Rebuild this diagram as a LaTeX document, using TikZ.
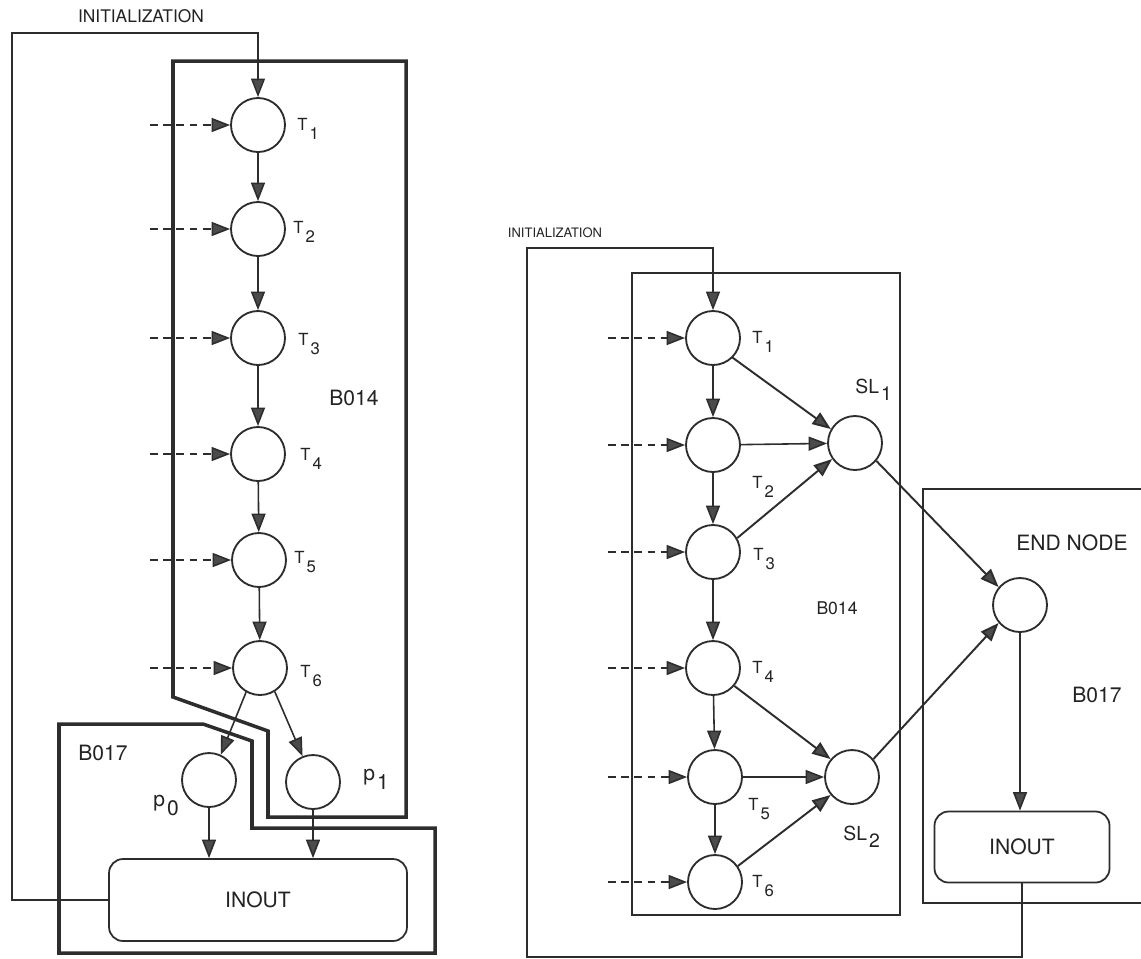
\documentclass[tikz,border=0pt]{standalone}
\usepackage{fontspec}
\setmainfont{TeX Gyre Heros}
\usetikzlibrary{arrows.meta}
\definecolor{ln}{RGB}{45,45,45}
\definecolor{tipc}{RGB}{75,75,75}
\definecolor{tx}{RGB}{35,35,35}
\newcommand\tsub[2]{#1\kern1.2pt\raisebox{-5.5pt}{#2}}
\newcommand\ssub[2]{#1\kern1.2pt\raisebox{-4pt}{#2}}
\begin{document}
\begin{tikzpicture}[x=0.02cm,y=-0.02cm,
  place/.style={circle,draw=ln,line width=1.05pt,minimum size=1.08cm,inner sep=0pt},
  arr/.style={draw=ln,line width=0.9pt,-{Triangle[length=3.7mm,width=2.8mm,fill=tipc]}},
  dsh/.style={arr,dash pattern=on 4.5pt off 3pt},
  frameA/.style={draw=ln,line width=2pt},
  frameB/.style={draw=ln,line width=1.6pt},
  frameC/.style={draw=ln,line width=1.2pt},
  inout/.style={draw=ln,line width=1pt,rounded corners=0.28cm,text=tx,font=\fontsize{12}{14}\selectfont},
  tl/.style={anchor=base west,inner sep=0pt,text=tx,font=\fontsize{9.5}{11}\selectfont},
  bl/.style={inner sep=0pt,text=tx,font=\fontsize{12}{14}\selectfont}
]
\useasboundingbox (0,0) rectangle (1141,958);
\clip (0,0) rectangle (1141,958);
\fill[white] (0,0) rectangle (1141,958);

% ================= LEFT DIAGRAM =================
\node[inner sep=0pt,text=tx,font=\fontsize{9.9}{11}\selectfont] (initL) at (141,16) {INITIALIZATION};

% B014 frame
\draw[frameA] (173,61) -- (406,61) -- (406,817) -- (268,817) -- (268,731) -- (173,697) -- cycle;
% B017 frame
\draw[frameA] (59,724) -- (203,724) -- (252,741) -- (252,828) -- (435,828) -- (435,953) -- (59,953) -- cycle;

\node[place] (L1) at (258,125) {};
\node[place] (L2) at (258,229) {};
\node[place] (L3) at (258,338) {};
\node[place] (L4) at (258,454) {};
\node[place] (L5) at (259,560) {};
\node[place] (L6) at (260,668) {};
\node[place] (P0) at (209,780) {};
\node[place] (P1) at (313,782) {};
\node[inout,minimum width=5.96cm,minimum height=1.64cm] (IO1) at (258,900) {INOUT};

\node[tl] (tL1) at (297,130) {\tsub{T}{1}};
\node[tl] (tL2) at (293,233) {\tsub{T}{2}};
\node[tl] (tL3) at (298,345) {\tsub{T}{3}};
\node[tl] (tL4) at (300,460) {\tsub{T}{4}};
\node[tl] (tL5) at (294,563) {\tsub{T}{5}};
\node[tl] (tL6) at (300,677) {\tsub{T}{6}};
\node[tl,font=\fontsize{12}{14}\selectfont] (tp0) at (153,806) {\tsub{p}{0}};
\node[tl,font=\fontsize{12}{14}\selectfont] (tp1) at (363,780) {\tsub{p}{1}};
\node[bl] (bL14) at (354,398) {B014};
\node[bl] (bL17) at (103,753) {B017};

\draw[arr] (L1) -- (L2);
\draw[arr] (L2) -- (L3);
\draw[arr] (L3) -- (L4);
\draw[arr] (L4) -- (L5);
\draw[arr] (L5) -- (L6);
\draw[arr] (L6.240) -- (P0.65);
\draw[arr] (L6.302) -- (P1.112);
\draw[arr] (P0) -- (P0 |- IO1.north);
\draw[arr] (P1) -- (P1 |- IO1.north);

\coordinate (lx) at (150,0);
\foreach \n in {1,...,6} { \draw[dsh] (L\n.west -| lx) -- (L\n.west); }

\coordinate (lc1) at (12,33);
\draw[arr,line width=0.8pt] (IO1.west) -| (lc1) -| (L1.north);

% ================= RIGHT DIAGRAM =================
\node[inner sep=0pt,text=tx,font=\fontsize{7.4}{9}\selectfont] (initR) at (555,233) {INITIALIZATION};

\draw[frameB] (632,273) rectangle (900,915);
\draw[frameC] (923,489) rectangle (1170,903);

\node[place] (R1) at (713,338) {};
\node[place] (R2) at (713,445) {};
\node[place] (R3) at (713,552) {};
\node[place] (R4) at (713,668) {};
\node[place] (R5) at (715,777) {};
\node[place] (R6) at (715,882) {};
\node[place] (S1) at (855,443) {};
\node[place] (S2) at (852,777) {};
\node[place] (EN) at (1020,605) {};
\node[inout,minimum width=3.5cm,minimum height=1.42cm] (IO2) at (1022,847) {INOUT};

\node[tl] (tR1) at (752,343) {\tsub{T}{1}};
\node[tl] (tR2) at (752,488) {\tsub{T}{2}};
\node[tl] (tR3) at (753,560) {\tsub{T}{3}};
\node[tl] (tR4) at (752,673) {\tsub{T}{4}};
\node[tl] (tR5) at (748,810) {\tsub{T}{5}};
\node[tl] (tR6) at (752,887) {\tsub{T}{6}};
\node[tl,font=\fontsize{11}{13}\selectfont] (tS1) at (855,393) {\ssub{SL}{1}};
\node[tl,font=\fontsize{11}{13}\selectfont] (tS2) at (843,840) {\ssub{SL}{2}};
\node[bl,font=\fontsize{10}{12}\selectfont] (bR14) at (837,608) {B014};
\node[bl] (bEN) at (1072,543) {END NODE};
\node[bl] (bR17) at (1097,695) {B017};

\draw[arr] (R1) -- (R2);
\draw[arr] (R2) -- (R3);
\draw[arr] (R3) -- (R4);
\draw[arr] (R4) -- (R5);
\draw[arr] (R5) -- (R6);
\draw[arr,line width=1.1pt] (R1.-45) -- (S1.150);
\draw[arr] (R2) -- (S1);
\draw[arr,line width=1.1pt] (R3.30) -- (S1.215);
\draw[arr,line width=1.1pt] (R4.-40) -- (S2.140);
\draw[arr] (R5) -- (S2);
\draw[arr,line width=1.1pt] (R6.35) -- (S2.220);
\draw[arr,line width=1.1pt] (S1.-40) -- (EN.140);
\draw[arr,line width=1.1pt] (S2.40) -- (EN.220);
\draw[arr] (EN) -- (EN |- IO2.north);

\coordinate (rx) at (608,0);
\foreach \n in {1,...,6} { \draw[dsh] (R\n.west -| rx) -- (R\n.west); }

\coordinate (rc1) at (527,957);
\coordinate (rc2) at (527,248);
\draw[arr,line width=0.8pt] (IO2.south) |- (rc1) -- (rc2) -| (R1.north);
\end{tikzpicture}
\end{document}
